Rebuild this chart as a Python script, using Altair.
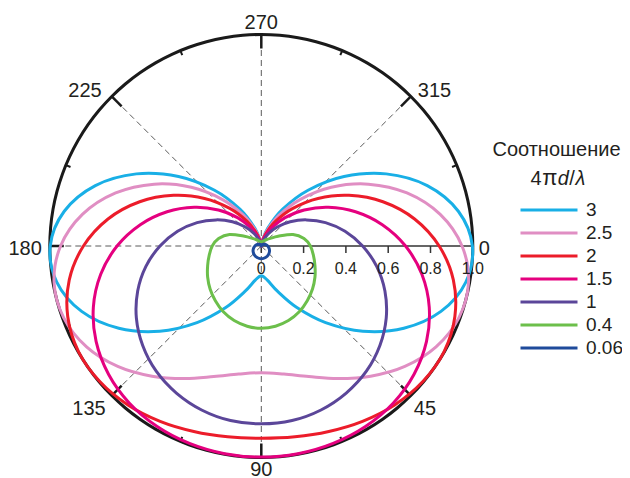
import altair as alt
import pandas as pd

# ---------------- data ----------------
ANGLES = [0, 10, 20, 30, 40, 50, 60, 70, 80, 90, 100, 110, 120, 130, 140, 150, 160, 170,
          180, 190, 200, 210, 220, 230, 240, 250, 260, 270, 280, 290, 300, 310, 320, 330, 340, 350]
RATIOS = ["3", "2.5", "2", "1.5", "1", "0.4", "0.06"]
COLORS = ["#19afe6", "#e08ec3", "#ec1c2a", "#e5007f", "#5b4699", "#6cbf4b", "#1f4b9b"]

R_3 = [0.998, 0.982, 0.904, 0.778, 0.627, 0.473, 0.336, 0.230, 0.164, 0.141,
       0.164, 0.230, 0.336, 0.473, 0.627, 0.778, 0.904, 0.982,
       0.998, 0.946, 0.835, 0.682, 0.511, 0.344, 0.200, 0.090, 0.023, 0.0,
       0.023, 0.090, 0.200, 0.344, 0.511, 0.682, 0.835, 0.946]
R_25 = [0.949, 0.995, 0.994, 0.954, 0.886, 0.804, 0.724, 0.657, 0.615, 0.599,
        0.615, 0.657, 0.724, 0.804, 0.886, 0.954, 0.994, 0.995,
        0.949, 0.859, 0.733, 0.585, 0.432, 0.288, 0.167, 0.075, 0.019, 0.0,
        0.019, 0.075, 0.167, 0.288, 0.432, 0.585, 0.733, 0.859]
R_2 = [0.841, 0.922, 0.974, 0.998, 0.997, 0.981, 0.957, 0.933, 0.916, 0.909,
       0.916, 0.933, 0.957, 0.981, 0.997, 0.998, 0.974, 0.922,
       0.841, 0.736, 0.612, 0.479, 0.350, 0.232, 0.134, 0.060, 0.015, 0.0,
       0.015, 0.060, 0.134, 0.232, 0.350, 0.479, 0.612, 0.736]
R_15 = [0.682, 0.771, 0.845, 0.902, 0.943, 0.970, 0.985, 0.993, 0.997, 0.998,
        0.997, 0.993, 0.985, 0.970, 0.943, 0.902, 0.845, 0.771,
        0.682, 0.581, 0.474, 0.366, 0.265, 0.175, 0.100, 0.045, 0.011, 0.0,
        0.011, 0.045, 0.100, 0.175, 0.265, 0.366, 0.474, 0.581]
R_1 = [0.479, 0.554, 0.622, 0.682, 0.732, 0.773, 0.803, 0.825, 0.838, 0.841,
       0.838, 0.825, 0.803, 0.773, 0.732, 0.682, 0.622, 0.554,
       0.479, 0.402, 0.323, 0.247, 0.178, 0.117, 0.067, 0.030, 0.008, 0.0,
       0.008, 0.030, 0.067, 0.117, 0.178, 0.247, 0.323, 0.402]
R_04 = [0.232, 0.250, 0.270, 0.293, 0.316, 0.338, 0.359, 0.375, 0.385, 0.389,
        0.385, 0.375, 0.359, 0.338, 0.316, 0.293, 0.270, 0.250,
        0.232, 0.205, 0.160, 0.092, 0.056, 0.040, 0.030, 0.024, 0.021, 0.020,
        0.021, 0.024, 0.030, 0.040, 0.056, 0.092, 0.160, 0.205]
R_006 = [0.030, 0.035, 0.040, 0.045, 0.049, 0.053, 0.056, 0.058, 0.0595, 0.060,
         0.0595, 0.058, 0.056, 0.053, 0.049, 0.045, 0.040, 0.035,
         0.030, 0.025, 0.020, 0.015, 0.011, 0.007, 0.004, 0.002, 0.0005, 0.0,
         0.0005, 0.002, 0.004, 0.007, 0.011, 0.015, 0.020, 0.025]
SERIES = [R_3, R_25, R_2, R_15, R_1, R_04, R_006]

CIRCLE_ANGLES = list(range(0, 360, 5))
GRID_ANGLES = [45, 90, 135, 180, 225, 270, 315]
MAJOR_TICKS = [45, 90, 135, 180, 225, 270, 315]
MINOR_TICKS = [22.5, 67.5, 112.5, 157.5, 202.5, 247.5, 292.5, 337.5]
RADIAL_TICKS = [0, 0.2, 0.4, 0.6, 0.8, 1.0]
RADIAL_LABELS = ["0", "0.2", "0.4", "0.6", "0.8", "1.0"]
ANGLE_TICKS = [0, 45, 90, 135, 180, 225, 270, 315]
ANGLE_LABELS = ["0", "45", "90", "135", "180", "225", "270", "315"]
TITLE_TEXT = ["Соотношение", "4", "π", "d", "/", "λ"]

# ---------------- layout ----------------
W, H = 614, 470
CX, CY, RPX = 253.3, 238.0, 211.5
FONT = "Liberation Sans"
TXT = "#231f20"
DARK = "#1a1a1a"

xs = alt.Scale(domain=[-CX / RPX, (W - CX) / RPX], nice=False, zero=False)
ys = alt.Scale(domain=[-CY / RPX, (H - CY) / RPX], nice=False, zero=False, reverse=True)
X = lambda f: alt.X(f, scale=xs, axis=None)
Y = lambda f: alt.Y(f, scale=ys, axis=None)

def cosx(r):
    return f"({r})*cos(datum.angle*PI/180)"

def siny(r):
    return f"({r})*sin(datum.angle*PI/180)"

# curves
rows = []
for ratio, rs in zip(RATIOS, SERIES):
    for a, r in zip(ANGLES, rs):
        rows.append({"ratio": ratio, "angle": a, "r": r})
curve_df = pd.DataFrame(rows)

curves = alt.Chart(curve_df).transform_calculate(
    x=cosx("datum.r"), y=siny("datum.r")
).mark_line(interpolate="cardinal-closed", tension=0, strokeWidth=3).encode(
    x=X("x:Q"), y=Y("y:Q"),
    color=alt.Color(
        "ratio:N",
        scale=alt.Scale(domain=RATIOS, range=COLORS),
        legend=alt.Legend(
            title=None, orient="none", legendX=511, legendY=191.5,
            symbolType="stroke", symbolSize=57 * 57, symbolStrokeWidth=3,
            clipHeight=21, rowPadding=2, labelFontSize=19, labelFont=FONT,
            labelColor=TXT, labelOffset=7,
        ),
    ),
    order=alt.Order("angle:Q"),
)

# outer circle
circle = alt.Chart(pd.DataFrame({"angle": CIRCLE_ANGLES})).transform_calculate(
    x=cosx("1"), y=siny("1")
).mark_line(interpolate="cardinal-closed", tension=0, strokeWidth=3, color=DARK).encode(
    x=X("x:Q"), y=Y("y:Q"), order=alt.Order("angle:Q")
)

# dashed rays
rays = alt.Chart(pd.DataFrame({"angle": GRID_ANGLES})).transform_calculate(
    x0="0", y0="0", x1=cosx("1"), y1=siny("1")
).mark_rule(color="#5a5a5a", strokeWidth=1, strokeDash=[6, 4]).encode(
    x=X("x0:Q"), y=Y("y0:Q"), x2="x1:Q", y2="y1:Q"
)

def circle_ticks(angles, length, width):
    inner = 1 - length / RPX
    return alt.Chart(pd.DataFrame({"angle": angles})).transform_calculate(
        x0=cosx("1"), y0=siny("1"), x1=cosx(str(inner)), y1=siny(str(inner))
    ).mark_rule(color=DARK, strokeWidth=width).encode(
        x=X("x0:Q"), y=Y("y0:Q"), x2="x1:Q", y2="y1:Q"
    )

major = circle_ticks(MAJOR_TICKS, 14, 2.5)
minor = circle_ticks(MINOR_TICKS, 5, 2)

# radial axis
rad_df = pd.DataFrame({"v": RADIAL_TICKS, "label": RADIAL_LABELS})
axis_line = alt.Chart(pd.DataFrame({"v": [RADIAL_TICKS[0]], "v2": [RADIAL_TICKS[-1]]})).transform_calculate(
    z="0"
).mark_rule(color="#333333", strokeWidth=1.5).encode(x=X("v:Q"), x2="v2:Q", y=Y("z:Q"))
axis_ticks = alt.Chart(rad_df).transform_calculate(z="0").mark_rule(
    color="#333333", strokeWidth=1.5, y2Offset=7
).encode(x=X("v:Q"), y=Y("z:Q"), y2="z:Q")
axis_labels = alt.Chart(rad_df).transform_calculate(z="0").mark_text(
    dy=28, baseline="alphabetic", fontSize=16, font=FONT, color=TXT
).encode(x=X("v:Q"), y=Y("z:Q"), text="label:N")

# angle labels
ang_df = pd.DataFrame({"angle": ANGLE_TICKS, "label": ANGLE_LABELS})
LABEL_STYLE = {
    0: ("left", 6, 9), 45: ("left", 3, 19), 90: ("center", 0, 18), 135: ("right", -6, 19),
    180: ("right", -8, 9), 225: ("right", -10, 1), 270: ("center", 0, -6), 315: ("left", 7, 1),
}
angle_layers = []
for a, (al, dx, dy) in LABEL_STYLE.items():
    angle_layers.append(
        alt.Chart(ang_df).transform_filter(f"datum.angle == {a}").transform_calculate(
            x=cosx("1"), y=siny("1")
        ).mark_text(align=al, baseline="alphabetic", dx=dx, dy=dy, fontSize=20, font=FONT, color=TXT).encode(
            x=X("x:Q"), y=Y("y:Q"), text="label:N"
        )
    )

# legend title
title_df = pd.DataFrame({"t": TITLE_TEXT})
def title_piece(i, x, y, align="left", style="normal", size=20):
    return alt.Chart(title_df).transform_filter(f"datum.t == '{TITLE_TEXT[i]}'").mark_text(
        align=align, baseline="alphabetic", fontSize=size, font=FONT, color=TXT, fontStyle=style
    ).encode(x=alt.value(x), y=alt.value(y), text="t:N")

titles = [
    title_piece(0, 548.5, 148, align="center", size=20),
    title_piece(1, 522.5, 177),
    title_piece(2, 534.3, 177, size=22),
    title_piece(3, 549.8, 177, style="italic"),
    title_piece(4, 561.3, 177),
    title_piece(5, 567.5, 177, style="italic"),
]

chart = alt.layer(
    rays, axis_line, axis_ticks, circle, major, minor, curves, axis_labels, *angle_layers, *titles
).properties(
    width=W, height=H, padding=0, autosize=alt.AutoSizeParams(type="none"), background="white"
).configure_view(stroke=None)

chart.save("out.html", embed_options={"renderer": "svg", "actions": False})
